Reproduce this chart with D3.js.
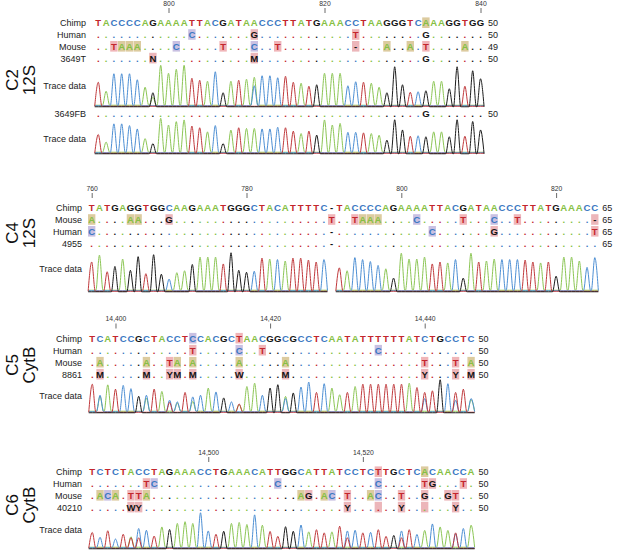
<!DOCTYPE html>
<html><head><meta charset="utf-8">
<script src="https://cdn.jsdelivr.net/npm/d3@7"></script>
<style>body{margin:0;background:#fff}svg{display:block}</style>
</head><body>
<script>
// ---------------- DATA ----------------
// C2 / 12S
const c2Chimp  = "TACCCCAGAAAATTACGATAACCCTTATGAAACCTAAGGGTCAAAGGTGG";
const c2Human  = "............C.......G............T........G.......";
const c2Mouse  = "..TAAA....C.....T...C..T.........-...A..A.T....A..";
const c2S3649T = ".......N............M.....................G.......";
const c2S3649FB= "..........................................G.......";
const c2ChimpHi = [42];
const c2HumanHi = [12,20,33];
const c2MouseHi = [2,3,4,5,10,16,20,23,33,37,40,42,47];
const c2S3649THi = [7,20];
const c2S3649FBHi = [];
const c2Counts = [50,50,49,50,50];
const c2TickIdx = [9,29,49];
const c2TickLabels = ["800","820","840"];
const c2Trace1 = [0.6,0.35,0.8,0.8,0.8,0.65,0.45,0.35,1.0,0.8,0.9,1.0,0.7,0.65,0.6,0.85,0.35,0.6,0.65,0.65,0.7,0.75,0.75,0.7,0.75,0.6,0.55,0.5,0.55,0.8,0.8,0.8,0.5,0.6,0.6,0.55,0.45,0.35,1.0,0.55,0.35,0.35,0.4,0.6,0.6,0.45,1.0,0.5,0.9,0.7];
const c2Trace1Minor = [[7,"A",0.2],[20,"C",0.5]];
const c2Trace2 = [0.55,0.3,0.85,0.85,0.8,0.7,0.4,0.3,1.0,0.8,0.9,0.95,0.8,0.75,0.6,0.8,0.3,0.65,0.75,0.7,0.7,0.7,0.7,0.75,0.75,0.65,0.55,0.65,0.55,0.95,0.8,0.85,0.6,0.6,0.6,0.55,0.5,0.4,1.0,0.7,0.5,0.5,0.5,0.6,0.6,0.5,1.0,0.5,0.95,0.7];
const c2Trace2Minor = [];

// C4 / 12S
const c4Chimp = "TATGAGGTGGCAAGAAATGGGCTACATTTTC-TACCCCAGAAAATTACGATAACCCTTATGAAACC";
const c4Mouse = "A....AA...G....................T..TAAA....C.....T...C..T.........-";
const c4Human = "C..............................-............C.......G............T";
const c4S4955 = "...............................-..................................";
const c4ChimpHi = [];
const c4MouseHi = [0,5,6,10,31,34,35,36,37,42,48,52,55,65];
const c4HumanHi = [0,44,52,65];
const c4S4955Hi = [];
const c4Counts = [65,65,65,65];
const c4TickIdx = [0,20,40,60];
const c4TickLabels = ["760","780","800","820"];
const c4Trace = [0.75,0.9,0.5,0.65,0.8,0.55,0.9,0.45,0.95,0.45,0.3,0.45,0.5,0.7,0.85,0.85,0.85,0.7,1.0,0.55,0.5,0.5,0.85,0.8,0.8,0.75,0.85,0.85,0.8,0.75,0.8,
  null,
  0.6,0.5,0.85,0.8,0.75,0.65,0.55,0.35,0.95,0.8,0.8,0.85,0.7,0.75,0.7,0.8,0.35,0.95,0.75,0.75,0.8,0.8,0.8,0.8,0.8,0.75,0.7,0.75,0.4,0.85,0.85,0.75,0.6,0.85];
const c4TraceMinor = [];

// C5 / CytB
const c5Chimp = "TCATCCGCTACCTCCACGCTAACGGCGCCTCAATATTTTTTATCTGCCTC";
const c5Human = ".............T.....C..T..............C............";
const c5Mouse = ".A.....A..TA.A.....A.....A.................T...T.A";
const c5S8861 = ".M.....M..YM.M.....W.....M.................Y...Y.M";
const c5ChimpHi = [13,19];
const c5HumanHi = [13,19,22,37];
const c5MouseHi = [1,7,10,11,13,19,25,43,47,49];
const c5S8861Hi = [1,7,10,11,13,19,25,43,47,49];
const c5Counts = [50,50,50,50];
const c5TickIdx = [3,23,43];
const c5TickLabels = ["14,400","14,420","14,440"];
const c5Trace = [0.85,0.5,0.8,0.7,0.8,0.7,0.5,0.5,0.7,0.6,0.35,0.3,0.6,0.45,0.5,0.7,0.6,0.45,0.3,0.25,0.75,0.85,0.5,0.75,0.85,0.4,0.6,0.75,0.9,0.6,0.85,0.7,0.5,0.6,0.75,0.85,0.85,0.85,0.85,0.85,0.85,0.85,0.75,0.4,0.65,1.0,0.85,0.35,0.7,0.4];
const c5TraceMinor = [[1,"A",0.45],[7,"A",0.4],[10,"T",0.3],[11,"A",0.25],[13,"A",0.3],[19,"A",0.2],[25,"A",0.45],[43,"T",0.6],[47,"T",0.6],[49,"A",0.35]];

// C6 / CytB
const c6Chimp = "TCTCTACCTAGAAACCTGAAACATTGGCATTATCCTCTTGCTCACAACCA";
const c6Human = ".......TC...............C............C.....TG...T.";
const c6Mouse = ".ACA.TTA...................AG.AC.T..AC..T..G..GT..";
const c6S40210 = ".....WY..........................Y......Y......Y..";
const c6ChimpHi = [37,43];
const c6HumanHi = [7,8,24,37,43,44,48];
const c6MouseHi = [1,2,3,5,6,7,27,28,30,31,33,36,37,40,43,46,47];
const c6S40210Hi = [5,6,33,37,40,43,47];
const c6Counts = [50,50,50,50];
const c6TickIdx = [15,35];
const c6TickLabels = ["14,500","14,520"];
const c6Trace = [0.45,0.3,0.5,0.25,0.4,0.3,0.55,0.5,0.35,0.58,0.55,0.68,0.73,0.68,1.0,0.48,0.4,0.5,0.68,0.71,0.65,0.94,0.63,0.48,0.34,0.63,0.5,0.65,0.44,0.53,0.44,0.44,0.63,0.48,0.5,0.44,0.44,0.53,0.34,0.38,0.48,0.53,0.38,0.48,0.68,0.58,0.48,0.4,0.55,0.63];
const c6TraceMinor = [[5,"T",0.3],[6,"T",0.3],[33,"T",0.3],[40,"T",0.3],[47,"T",0.44]];

// ---------------- STYLE ----------------
const baseColor = {T:"#c3262d", A:"#86bf44", C:"#3b78c2", G:"#141414"};
const traceColor = {T:"#c0393c", A:"#8cc655", C:"#4d8fd4", G:"#1c1c1c"};
const boxColor = {A:"#dccb9f", C:"#c9c0e2", T:"#f0b5b8"};
const boxOther = "#ecb6ba";
const FONT = "'Liberation Sans', Arial, Helvetica, sans-serif";

const panels = [
  {name:["C2","12S"], nameY:80, x0:98.3, step:7.8, labelX:86, n:50,
   ticks:{idx:c2TickIdx, labels:c2TickLabels}, chimp:c2Chimp,
   rows:[
     {label:"Chimp", seq:c2Chimp, hi:c2ChimpHi, count:c2Counts[0], y:23},
     {label:"Human", seq:c2Human, hi:c2HumanHi, count:c2Counts[1], y:34.8},
     {label:"Mouse", seq:c2Mouse, hi:c2MouseHi, count:c2Counts[2], y:46.6},
     {label:"3649T", seq:c2S3649T, hi:c2S3649THi, count:c2Counts[3], y:58.4},
     {label:"3649FB", seq:c2S3649FB, hi:c2S3649FBHi, count:c2Counts[4], y:113.5}],
   traces:[
     {seq:c2S3649T, h:c2Trace1, minor:c2Trace1Minor, top:66, base:106, labelY:86},
     {seq:c2S3649FB, h:c2Trace2, minor:c2Trace2Minor, top:119, base:153, labelY:139}]},
  {name:["C4","12S"], nameY:233, x0:91.7, step:7.74, labelX:82, n:66,
   ticks:{idx:c4TickIdx, labels:c4TickLabels}, chimp:c4Chimp,
   rows:[
     {label:"Chimp", seq:c4Chimp, hi:c4ChimpHi, count:c4Counts[0], y:208},
     {label:"Mouse", seq:c4Mouse, hi:c4MouseHi, count:c4Counts[1], y:219.8},
     {label:"Human", seq:c4Human, hi:c4HumanHi, count:c4Counts[2], y:231.6},
     {label:"4955", seq:c4S4955, hi:c4S4955Hi, count:c4Counts[3], y:243.4}],
   traces:[
     {seq:c4S4955, h:c4Trace, minor:c4TraceMinor, top:252, base:291, labelY:269}]},
  {name:["C5","CytB"], nameY:365, x0:92.3, step:7.73, labelX:82, n:50,
   ticks:{idx:c5TickIdx, labels:c5TickLabels}, chimp:c5Chimp,
   rows:[
     {label:"Chimp", seq:c5Chimp, hi:c5ChimpHi, count:c5Counts[0], y:338.5},
     {label:"Human", seq:c5Human, hi:c5HumanHi, count:c5Counts[1], y:350.5},
     {label:"Mouse", seq:c5Mouse, hi:c5MouseHi, count:c5Counts[2], y:362.5},
     {label:"8861", seq:c5S8861, hi:c5S8861Hi, count:c5Counts[3], y:374.5}],
   traces:[
     {seq:c5S8861, h:c5Trace, minor:c5TraceMinor, top:379, base:412, labelY:396}]},
  {name:["C6","CytB"], nameY:505, x0:92.3, step:7.73, labelX:82, n:50,
   ticks:{idx:c6TickIdx, labels:c6TickLabels}, chimp:c6Chimp,
   rows:[
     {label:"Chimp", seq:c6Chimp, hi:c6ChimpHi, count:c6Counts[0], y:472},
     {label:"Human", seq:c6Human, hi:c6HumanHi, count:c6Counts[1], y:483.8},
     {label:"Mouse", seq:c6Mouse, hi:c6MouseHi, count:c6Counts[2], y:495.6},
     {label:"40210", seq:c6S40210, hi:c6S40210Hi, count:c6Counts[3], y:507.4}],
   traces:[
     {seq:c6S40210, h:c6Trace, minor:c6TraceMinor, top:513, base:548, labelY:530}]}
];

// ---------------- DRAW ----------------
const svg = d3.select("body").append("svg")
  .attr("width",617).attr("height",550)
  .style("font-family",FONT);

panels.forEach(p => {
  const g = svg.append("g");
  const x = d3.scaleLinear().domain([0, p.n-1]).range([p.x0, p.x0 + (p.n-1)*p.step]);
  const chimpY = p.rows[0].y;

  // panel name (rotated)
  const ng = g.append("g").attr("transform",`translate(18,${p.nameY}) rotate(-90)`);
  p.name.forEach((t,k) => ng.append("text").attr("x",0).attr("y",k*17)
    .attr("text-anchor","middle").attr("font-size",17).attr("fill","#111").text(t));

  // ticks
  p.ticks.idx.forEach((ti,k) => {
    const tx = x(ti) + 0.5;
    g.append("line").attr("x1",tx).attr("x2",tx).attr("y1",chimpY-15).attr("y2",chimpY-10)
      .attr("stroke","#444").attr("stroke-width",0.8);
    g.append("text").attr("x",tx).attr("y",chimpY-17.5).attr("text-anchor","middle")
      .attr("font-size",6.8).attr("fill","#333").text(p.ticks.labels[k]);
  });

  // rows
  p.rows.forEach(r => {
    g.append("text").attr("x",p.labelX).attr("y",r.y+3.3).attr("text-anchor","end")
      .attr("font-size",9).attr("fill","#222").text(r.label);
    const chars = r.seq.split("").map((c,i)=>({c,i}));
    const hiSet = new Set(r.hi);
    g.selectAll(null).data(chars.filter(d=>hiSet.has(d.i))).enter().append("rect")
      .attr("x",d=>x(d.i)-p.step/2+0.2).attr("y",r.y-5.6)
      .attr("width",p.step-0.4).attr("height",10.6)
      .attr("fill",d=>boxColor[d.c] || boxOther);
    g.selectAll(null).data(chars).enter().append("text")
      .attr("x",d=>x(d.i)).attr("y",r.y+3.4).attr("text-anchor","middle")
      .attr("font-size",9.6).attr("font-weight","bold")
      .attr("fill",d=>d.c==="." ? (baseColor[p.chimp[d.i]]||"#222") : (baseColor[d.c]||"#141414"))
      .text(d=>d.c);
    g.append("text").attr("x",x(p.n-1)+7.5).attr("y",r.y+3.3)
      .attr("font-size",9).attr("fill","#222").text(r.count);
  });

  // traces
  p.traces.forEach(tr => {
    g.append("text").attr("x",p.labelX).attr("y",tr.labelY+3.3).attr("text-anchor","end")
      .attr("font-size",9).attr("fill","#222").text("Trace data");
    const y = d3.scaleLinear().domain([0,1]).range([tr.base, tr.top]);
    const call = i => {
      const c = tr.seq[i];
      return "ACGT".includes(c) ? c : p.chimp[i];
    };
    const minorMap = new Map(tr.minor.map(m => [m[0]+m[1], m[2]]));
    // segments of non-null heights
    const segs = [];
    let cur = null;
    tr.h.forEach((v,i) => {
      if (v === null) { cur = null; return; }
      if (!cur) { cur = []; segs.push(cur); }
      cur.push(i);
    });
    const line = d3.line().x(d=>x(d[0])).y(d=>y(d[1])).curve(d3.curveMonotoneX);
    segs.forEach(seg => {
      ["A","C","T","G"].forEach((B,bk) => {
        const pts = [];
        seg.forEach(i => {
          let hv = call(i)===B ? tr.h[i] : (minorMap.get(i+B) || 0);
          pts.push([i-0.46, 0]);
          pts.push([i, hv]);
          pts.push([i+0.46, 0]);
        });
        g.append("path").attr("d", line(pts)).attr("fill","none")
          .attr("stroke", traceColor[B]).attr("stroke-width",1)
          .attr("transform",`translate(0,${(bk-1.5)*0.5})`);
      });
    });
  });
});
</script>
</body></html>
